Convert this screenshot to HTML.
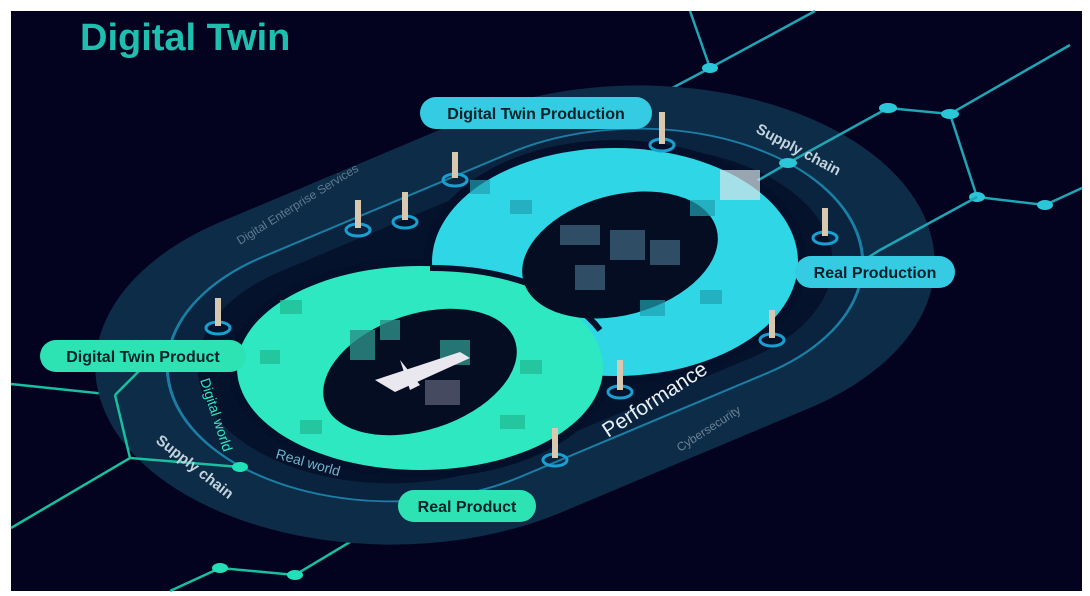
<!DOCTYPE html>
<html><head><meta charset="utf-8"><style>
html,body{margin:0;padding:0;background:#fff;overflow:hidden;}
svg{display:block;}
text{font-family:"Liberation Sans",sans-serif;}
</style></head><body>
<svg width="1090" height="596" viewBox="0 0 1090 596" xmlns="http://www.w3.org/2000/svg">
<rect x="0" y="0" width="1090" height="596" fill="#fff"/>
<rect x="11" y="11" width="1071" height="580" fill="#03031f"/>

<g stroke="#1fa5b5" stroke-width="2.5" fill="none">
<polyline points="690,11 710,68 815,11"/>
<polyline points="710,68 640,105"/>
<polyline points="888,108 950,114 1070,45"/>
<polyline points="950,114 977,197 1045,205 1082,188"/>
</g>
<g stroke="#17c0a0" stroke-width="2.5" fill="none">
<polyline points="11,384 115,395 150,360"/>
<polyline points="130,458 11,528"/>
<polyline points="170,591 220,568 295,575 400,512"/>
</g>
<g fill="#2bc6d8">
<ellipse cx="710" cy="68" rx="8" ry="5"/>
<ellipse cx="888" cy="108" rx="9" ry="5"/>
<ellipse cx="950" cy="114" rx="9" ry="5"/>
<ellipse cx="977" cy="197" rx="8" ry="5"/>
<ellipse cx="1045" cy="205" rx="8" ry="5"/>
</g>

<g transform="translate(515,315) scale(1,0.6) rotate(-35)">
<rect x="-447" y="-296" width="894" height="592" rx="296" fill="#0d2c47"/>
<rect x="-375" y="-224" width="750" height="448" rx="224" fill="#0a2440" stroke="#1a7fa5" stroke-width="3"/>
<rect x="-345" y="-194" width="690" height="388" rx="194" fill="#05122c"/>
</g>
<g stroke="#17c0a0" stroke-width="2.5" fill="none">
<polyline points="115,395 150,360"/>
<polyline points="115,395 130,458 240,467"/>
</g>
<ellipse cx="240" cy="467" rx="8" ry="5" fill="#22e0b8"/>
<ellipse cx="220" cy="568" rx="8" ry="5" fill="#22e0b8"/>
<ellipse cx="295" cy="575" rx="8" ry="5" fill="#22e0b8"/>
<g stroke="#1fa5b5" stroke-width="2.5" fill="none">
<polyline points="750,185 788,163 888,108"/>
<polyline points="977,197 880,250 840,275"/>
</g>
<ellipse cx="788" cy="163" rx="9" ry="5" fill="#2bc6d8"/>
<ellipse cx="888" cy="108" rx="9" ry="5" fill="#2bc6d8"/>

<ellipse cx="615" cy="262" rx="192" ry="122" fill="#04102a"/>
<ellipse cx="420" cy="368" rx="192" ry="110" fill="#04102a"/>
<ellipse cx="615" cy="262" rx="183" ry="114" fill="#2fd6e6"/>
<ellipse cx="420" cy="368" rx="183" ry="102" fill="#2ee8c2"/>
<path d="M 430 268 A 183 102 0 0 1 600 330" fill="none" stroke="#04102a" stroke-width="6"/>
<ellipse cx="620" cy="255" rx="100" ry="60" transform="rotate(-15 620 255)" fill="#050d22"/>
<ellipse cx="420" cy="372" rx="100" ry="58" transform="rotate(-18 420 372)" fill="#050d22"/>

<g fill="#3a5f78" opacity="0.8">
<rect x="560" y="225" width="40" height="20"/><rect x="610" y="230" width="35" height="30"/><rect x="650" y="240" width="30" height="25"/>
<rect x="575" y="265" width="30" height="25"/>
</g>
<g fill="#2c8f88" opacity="0.8">
<rect x="350" y="330" width="25" height="30"/><rect x="380" y="320" width="20" height="20"/><rect x="440" y="340" width="30" height="25"/>
<rect x="425" y="380" width="35" height="25" fill="#555a70"/>
</g>
<path d="M 375 380 L 460 352 L 470 358 L 395 392 Z" fill="#e8e8ee"/>
<path d="M 400 360 L 420 385 L 410 390 Z" fill="#e8e8ee"/>
<g fill="#1fa0b0" opacity="0.7">
<rect x="470" y="180" width="20" height="14"/><rect x="510" y="200" width="22" height="14"/><rect x="690" y="200" width="25" height="16"/>
<rect x="720" y="170" width="40" height="30" fill="#d8e4ea"/><rect x="640" y="300" width="25" height="16"/><rect x="700" y="290" width="22" height="14"/>
</g>
<g fill="#1fb890" opacity="0.7">
<rect x="280" y="300" width="22" height="14"/><rect x="300" y="420" width="22" height="14"/><rect x="500" y="415" width="25" height="14"/>
<rect x="260" y="350" width="20" height="14"/><rect x="520" y="360" width="22" height="14"/>
</g>

<!-- figure markers -->
<g fill="none" stroke="#1a9fd0" stroke-width="3">
<ellipse cx="358" cy="230" rx="12" ry="6"/><ellipse cx="405" cy="222" rx="12" ry="6"/>
<ellipse cx="455" cy="180" rx="12" ry="6"/><ellipse cx="662" cy="145" rx="12" ry="6"/>
<ellipse cx="825" cy="238" rx="12" ry="6"/><ellipse cx="772" cy="340" rx="12" ry="6"/>
<ellipse cx="620" cy="392" rx="12" ry="6"/><ellipse cx="555" cy="460" rx="12" ry="6"/>
<ellipse cx="218" cy="328" rx="12" ry="6"/>
</g>
<g fill="#d8c8b0">
<rect x="355" y="200" width="6" height="28"/><rect x="402" y="192" width="6" height="28"/><rect x="452" y="152" width="6" height="26"/>
<rect x="659" y="112" width="6" height="32"/><rect x="822" y="208" width="6" height="28"/><rect x="769" y="310" width="6" height="28"/>
<rect x="617" y="360" width="6" height="30"/><rect x="552" y="428" width="6" height="30"/><rect x="215" y="298" width="6" height="28"/>
</g>

<text x="0" y="0" transform="translate(755,132) rotate(28)" fill="#c4d4de" font-size="15" font-weight="bold">Supply chain</text>
<text x="0" y="0" transform="translate(240,245) rotate(-32)" fill="#5d7c92" font-size="12">Digital Enterprise Services</text>
<text x="0" y="0" transform="translate(608,438) rotate(-33)" fill="#e8f0f4" font-size="21">Performance</text>
<text x="0" y="0" transform="translate(680,452) rotate(-33)" fill="#6b8296" font-size="12">Cybersecurity</text>
<text x="0" y="0" transform="translate(200,380) rotate(72)" fill="#2ee8c2" font-size="14">Digital world</text>
<text x="0" y="0" transform="translate(275,458) rotate(16)" fill="#6fb4c8" font-size="14">Real world</text>
<text x="0" y="0" transform="translate(155,442) rotate(38)" fill="#c4d4de" font-size="15" font-weight="bold">Supply chain</text>

<text x="80" y="50" fill="#1fbfb0" font-size="38" font-weight="bold">Digital Twin</text>

<rect x="420" y="97" width="232" height="32" rx="16" fill="#35cbe2"/>
<text x="536" y="119" text-anchor="middle" fill="#06202a" font-size="16" font-weight="bold">Digital Twin Production</text>
<rect x="795" y="256" width="160" height="32" rx="16" fill="#35cbe2"/>
<text x="875" y="278" text-anchor="middle" fill="#06202a" font-size="16" font-weight="bold">Real Production</text>
<rect x="40" y="340" width="206" height="32" rx="16" fill="#2de3b4"/>
<text x="143" y="362" text-anchor="middle" fill="#06202a" font-size="16" font-weight="bold">Digital Twin Product</text>
<rect x="398" y="490" width="138" height="32" rx="16" fill="#2de3b4"/>
<text x="467" y="512" text-anchor="middle" fill="#06202a" font-size="16" font-weight="bold">Real Product</text>
</svg>
</body></html>
